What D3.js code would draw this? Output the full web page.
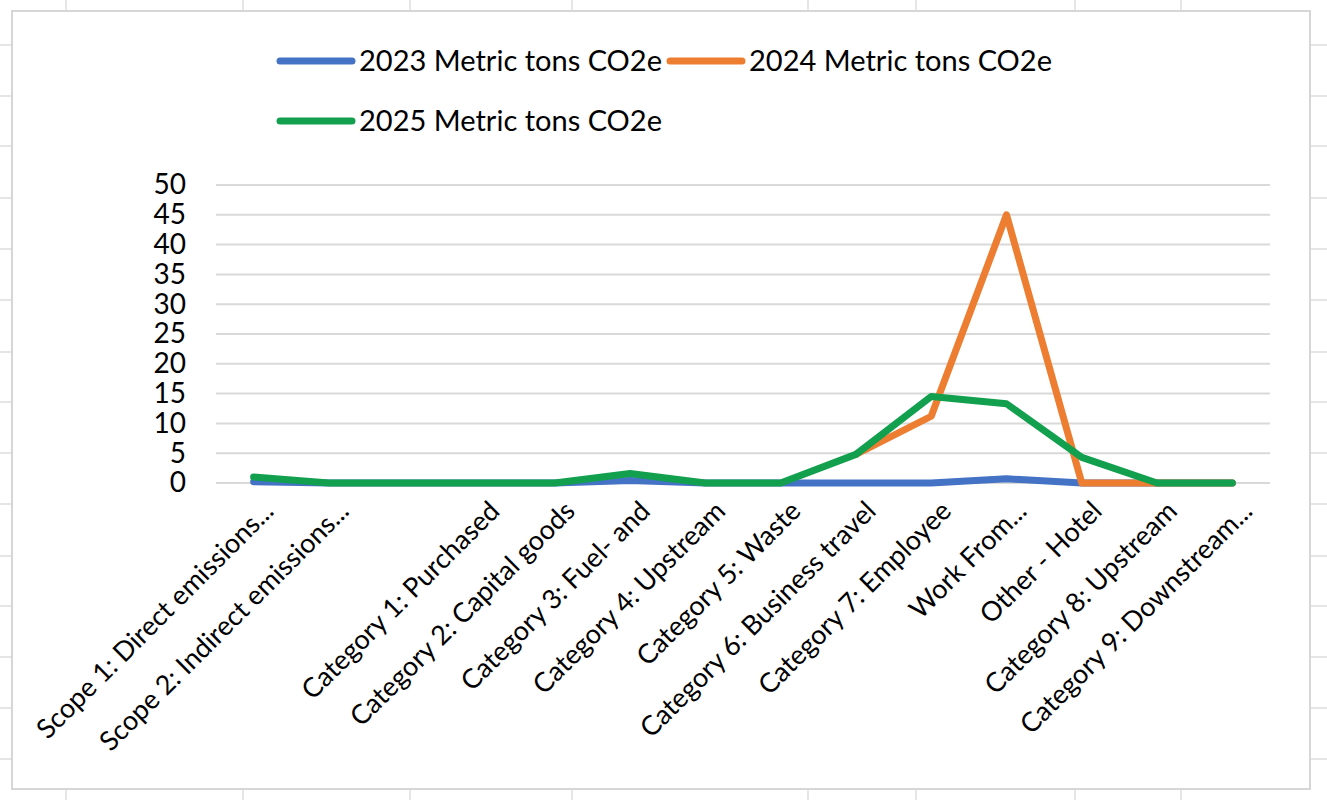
<!DOCTYPE html>
<html>
<head>
<meta charset="utf-8">
<script src="https://cdn.jsdelivr.net/npm/d3@7"></script>
<style>
  html, body { margin: 0; padding: 0; background: #ffffff; }
  svg { display: block; }
  text { font-family: Lato, "Open Sans", sans-serif; fill: #000; }
</style>
</head>
<body>
<svg id="chart" width="1327" height="800"></svg>
<script>
// ---- data ----
const categories = [
  "Scope 1: Direct emissions...",
  "Scope 2: Indirect emissions...",
  "",
  "Category 1: Purchased",
  "Category 2: Capital goods",
  "Category 3: Fuel- and",
  "Category 4: Upstream",
  "Category 5: Waste",
  "Category 6: Business travel",
  "Category 7: Employee",
  "Work From...",
  "Other - Hotel",
  "Category 8: Upstream",
  "Category 9: Downstream..."
];
const values2023 = [0.2, 0, 0, 0, 0, 0.4, 0, 0, 0, 0, 0.7, 0, 0, 0];
const values2024 = [null, null, null, null, null, null, null, null, 4.8, 11.2, 45, 0, 0, 0];
const values2025 = [1.0, 0, 0, 0, 0, 1.6, 0, 0, 4.8, 14.5, 13.3, 4.3, 0, 0];
const seriesNames = ["2023 Metric tons CO2e", "2024 Metric tons CO2e", "2025 Metric tons CO2e"];
const yTicks = [0, 5, 10, 15, 20, 25, 30, 35, 40, 45, 50];
const colors = ["#4472C4", "#ED7D31", "#12A04F"];

const series = [values2023, values2024, values2025].map((v, i) => ({ name: seriesNames[i], values: v, color: colors[i] }));

const svg = d3.select("#chart");

// ---- background spreadsheet grid ----
const sheetCols = [66, 243, 410, 572, 808, 916, 1075, 1181];
const sheetRows = [45, 96, 146, 198, 249, 300, 352, 402, 453, 504, 556, 606, 657, 708, 759];
const bg = svg.append("g");
bg.selectAll("line.c").data(sheetCols).join("line")
  .attr("x1", d => d).attr("x2", d => d).attr("y1", 0).attr("y2", 800)
  .attr("stroke", "#dcdcdc").attr("stroke-width", 1.5);
bg.selectAll("line.r").data(sheetRows).join("line")
  .attr("x1", 0).attr("x2", 1327).attr("y1", d => d).attr("y2", d => d)
  .attr("stroke", "#dcdcdc").attr("stroke-width", 1.5);

// chart frame
svg.append("rect").attr("x", 12).attr("y", 11).attr("width", 1298).attr("height", 778)
  .attr("fill", "#ffffff").attr("stroke", "#d6d6d6").attr("stroke-width", 2);

// ---- scales ----
const x = d3.scaleBand().domain(d3.range(categories.length)).range([216, 1270]).padding(0);
const cx = i => x(i) + x.bandwidth() / 2;
const y = d3.scaleLinear().domain([0, 50]).range([483, 185]);

// gridlines
svg.append("g").selectAll("line").data(yTicks).join("line")
  .attr("x1", 216).attr("x2", 1270)
  .attr("y1", d => y(d)).attr("y2", d => y(d))
  .attr("stroke", "#d9d9d9").attr("stroke-width", 2);

// y axis labels
const yAxis = d3.axisLeft(y).tickValues(yTicks).tickSize(0).tickPadding(0);
const yg = svg.append("g").attr("transform", "translate(186,0)").call(yAxis);
yg.select(".domain").remove();
yg.selectAll("text").attr("font-size", 28).attr("font-family", "Lato, sans-serif").attr("fill", "#000");

// x axis labels
const xg = svg.append("g");
xg.selectAll("text").data(categories).join("text")
  .attr("transform", (d, i) => `translate(${cx(i) + 15},${506}) rotate(-45)`)
  .attr("text-anchor", "end")
  .attr("dy", "0.35em")
  .attr("font-size", 27)
  .text(d => d);

// lines
const line = d3.line().defined(d => d != null).x((d, i) => cx(i)).y(d => y(d));
svg.append("g").selectAll("path").data(series).join("path")
  .attr("d", d => line(d.values))
  .attr("fill", "none")
  .attr("stroke", d => d.color)
  .attr("stroke-width", 7)
  .attr("stroke-linejoin", "round")
  .attr("stroke-linecap", "round");

// legend
const legendPos = [{ x: 280, y: 61 }, { x: 670, y: 61 }, { x: 280, y: 121 }];
const lg = svg.append("g").selectAll("g").data(series).join("g")
  .attr("transform", (d, i) => `translate(${legendPos[i].x},${legendPos[i].y})`);
lg.append("line").attr("x1", 0).attr("x2", 72).attr("y1", 0).attr("y2", 0)
  .attr("stroke", d => d.color).attr("stroke-width", 7).attr("stroke-linecap", "round");
lg.append("text").attr("x", 79).attr("dy", "0.36em")
  .attr("font-size", 28)
  .attr("textLength", 303).attr("lengthAdjust", "spacingAndGlyphs")
  .text(d => d.name);
</script>
</body>
</html>
